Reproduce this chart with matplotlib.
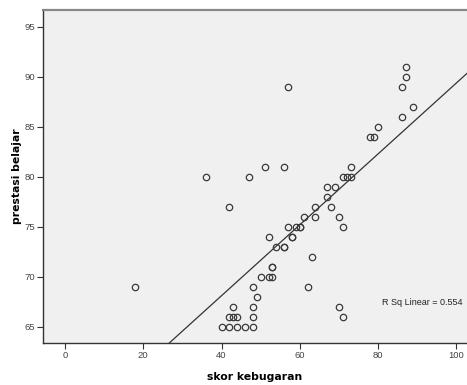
import numpy as np
import matplotlib
matplotlib.use("Agg")
import matplotlib.pyplot as plt

# skor kebugaran (x) vs prestasi belajar (y)
skor = [18, 36, 42, 47, 51, 56, 57,
        40, 42, 44, 46, 48,
        42, 43, 44, 48,
        43, 48, 49, 48, 62,
        50, 52, 53, 53, 53, 63,
        54, 56, 56, 52, 58, 58,
        57, 59, 60, 60, 71,
        61, 64, 70, 64, 68, 67, 67, 69,
        71, 72, 73, 73, 78, 79, 80, 86, 89, 86, 87, 87,
        70, 71]
prestasi = [69, 80, 77, 80, 81, 81, 89,
            65, 65, 65, 65, 65,
            66, 66, 66, 66,
            67, 67, 68, 69, 69,
            70, 70, 70, 71, 71, 72,
            73, 73, 73, 74, 74, 74,
            75, 75, 75, 75, 75,
            76, 76, 76, 77, 77, 78, 79, 79,
            80, 80, 80, 81, 84, 84, 85, 86, 87, 89, 90, 91,
            67, 66]
rsq_label = "R Sq Linear = 0.554"
xticks = [0, 20, 40, 60, 80, 100]
yticks = [65, 70, 75, 80, 85, 90, 95]

x = np.array(skor, dtype=float)
y = np.array(prestasi, dtype=float)
slope, intercept = np.polyfit(x, y, 1)

fig = plt.figure(figsize=(4.67, 3.85), dpi=100)
ax = fig.add_axes([43 / 467, 1 - 343 / 385, 424 / 467, 333 / 385])
ax.set_facecolor("#f0f0f0")

xlim = (-5.6, 102.7)
ylim = (63.35, 96.7)
ax.set_xlim(*xlim)
ax.set_ylim(*ylim)

xs = np.array(xlim)
ax.plot(xs, intercept + slope * xs, color="#333333", lw=0.9, zorder=2)
ax.plot(x, y, ls="none", marker="o", ms=4.6, mfc="none", mec="#3a3a3a",
        mew=0.9, zorder=3)

ax.text(0.99, 0.123, rsq_label, transform=ax.transAxes, ha="right",
        va="center", fontsize=6.5, color="#222222",
        family="Liberation Sans")

ax.set_xticks(xticks)
ax.set_yticks(yticks)
ax.tick_params(direction="out", length=4, width=0.8, color="#333333",
               labelsize=6.8, labelcolor="#444444", pad=2)
for lab in ax.get_xticklabels() + ax.get_yticklabels():
    lab.set_family("Liberation Sans")

ax.spines["right"].set_visible(False)
ax.spines["top"].set_color("#888888")
ax.spines["top"].set_linewidth(1.6)
ax.spines["left"].set_color("#333333")
ax.spines["bottom"].set_color("#333333")
ax.spines["left"].set_linewidth(1.0)
ax.spines["bottom"].set_linewidth(1.0)

ax.set_xlabel("skor kebugaran", fontsize=7.8, fontweight="bold")
ax.set_ylabel("prestasi belajar", fontsize=7.8, fontweight="bold")
ax.xaxis.set_label_coords(0.5, -34 / 333, transform=ax.transAxes)
ax.yaxis.set_label_coords(-26 / 424, 0.5, transform=ax.transAxes)
ax.xaxis.label.set_va("center")
ax.yaxis.label.set_va("center")

fig.savefig("out.png", dpi=100)
